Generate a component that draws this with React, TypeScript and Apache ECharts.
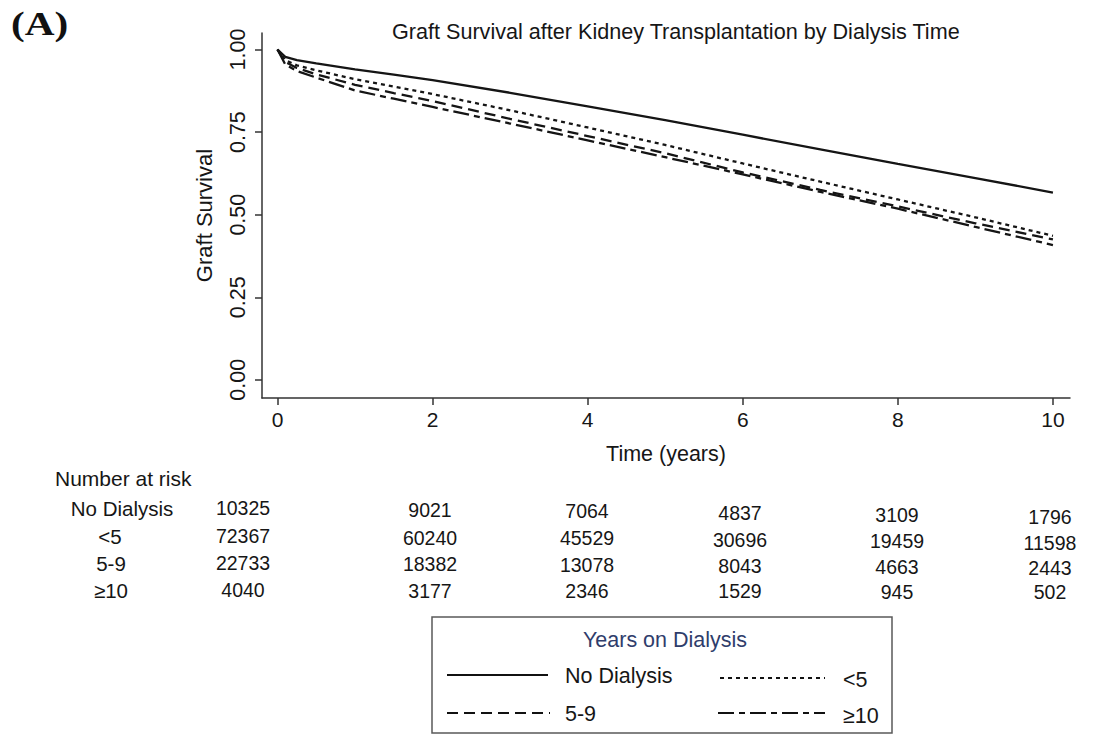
import React, { useEffect, useRef } from "react";
import * as echarts from "echarts";

// ---- survival curves (years, graft survival) ----
const times = [0, 0.1, 0.25, 0.5, 1, 1.5, 2, 3, 4, 5, 6, 7, 8, 9, 10];
const survNoDialysis = [1.0, 0.978, 0.968, 0.958, 0.94, 0.924, 0.907, 0.869, 0.828, 0.786, 0.742, 0.698, 0.654, 0.611, 0.567];
const survLt5 = [1.0, 0.968, 0.952, 0.937, 0.91, 0.888, 0.865, 0.816, 0.764, 0.711, 0.655, 0.6, 0.546, 0.492, 0.436];
const surv5to9 = [1.0, 0.962, 0.944, 0.925, 0.893, 0.868, 0.844, 0.79, 0.738, 0.686, 0.628, 0.575, 0.525, 0.474, 0.425];
const survGe10 = [1.0, 0.955, 0.935, 0.915, 0.876, 0.851, 0.826, 0.776, 0.725, 0.674, 0.622, 0.569, 0.518, 0.463, 0.408];

const groupNames = ["No Dialysis", "<5", "5-9", "≥10"];

// ---- number at risk ----
const riskTimes = [0, 2, 4, 6, 8, 10];
const riskNoDialysis = [10325, 9021, 7064, 4837, 3109, 1796];
const riskLt5 = [72367, 60240, 45529, 30696, 19459, 11598];
const risk5to9 = [22733, 18382, 13078, 8043, 4663, 2443];
const riskGe10 = [4040, 3177, 2346, 1529, 945, 502];

// ---- axis ticks ----
const xTicks = [0, 2, 4, 6, 8, 10];
const yTicks = [0, 0.25, 0.5, 0.75, 1];

const FONT = "'Liberation Sans', Arial, Helvetica, sans-serif";
const INK = "#161616";
const dashes: (number[] | "solid")[] = ["solid", [4, 4], [11, 6], [16, 5, 6, 5]];

export default function App() {
  const ref = useRef<HTMLDivElement>(null);

  useEffect(() => {
    if (!ref.current) return;
    const chart = echarts.init(ref.current, undefined, { renderer: "svg" });

    const survival = [survNoDialysis, survLt5, surv5to9, survGe10];
    const risk = [riskNoDialysis, riskLt5, risk5to9, riskGe10];

    // layout of the risk table
    const colX = [243, 430, 587, 740, 897, 1050];
    const colDy = [0, 2, 3, 5, 7, 9];
    const rowY = [508, 536, 563, 590];
    const rowLabelX = [122, 110, 111, 111];

    const graphics: any[] = [];
    graphics.push({
      type: "text",
      left: 11,
      top: 7,
      style: { text: "(A)", fontFamily: "'Liberation Serif', 'Times New Roman', serif", fontWeight: "bold", fontSize: 33, fill: "#111" },
      scaleX: 1.25,
    });
    graphics.push({
      type: "text",
      x: 55,
      y: 478,
      style: { text: "Number at risk", fontFamily: FONT, fontSize: 21, fill: INK, verticalAlign: "middle" },
    });
    groupNames.forEach((g, r) => {
      graphics.push({
        type: "text",
        x: rowLabelX[r],
        y: rowY[r],
        style: { text: g, fontFamily: FONT, fontSize: 20.5, fill: INK, align: "center", verticalAlign: "middle" },
      });
      riskTimes.forEach((_t, c) => {
        graphics.push({
          type: "text",
          x: colX[c],
          y: rowY[r] + colDy[c] * (1 - r / 4),
          style: { text: String(risk[r][c]), fontFamily: FONT, fontSize: 19.5, fill: INK, align: "center", verticalAlign: "middle" },
        });
      });
    });

    // legend box
    graphics.push({
      type: "rect",
      shape: { x: 432, y: 617, width: 460, height: 116 },
      style: { fill: "none", stroke: "#5a5a5a", lineWidth: 1.5 },
    });
    graphics.push({
      type: "text",
      x: 665,
      y: 640,
      style: { text: "Years on Dialysis", fontFamily: FONT, fontSize: 21.5, fill: "#2f3d6b", align: "center", verticalAlign: "middle" },
    });
    const legPos = [
      { x1: 447, x2: 548, y: 675, tx: 565, ty: 676 },
      { x1: 720, x2: 825, y: 678, tx: 843, ty: 680 },
      { x1: 447, x2: 550, y: 713, tx: 565, ty: 714 },
      { x1: 718, x2: 825, y: 713, tx: 843, ty: 716 },
    ];
    groupNames.forEach((g, i) => {
      const p = legPos[i];
      graphics.push({
        type: "line",
        shape: { x1: p.x1, y1: p.y, x2: p.x2, y2: p.y },
        style: { stroke: "#111", lineWidth: 2.2, lineDash: dashes[i] === "solid" ? null : dashes[i] },
      });
      graphics.push({
        type: "text",
        x: p.tx,
        y: p.ty,
        style: { text: g, fontFamily: FONT, fontSize: 21.5, fill: INK, verticalAlign: "middle" },
      });
    });

    chart.setOption({
      animation: false,
      backgroundColor: "#ffffff",
      title: {
        text: "Graft Survival after Kidney Transplantation by Dialysis Time",
        left: 387,
        top: 15,
        textStyle: { fontFamily: FONT, fontSize: 21.6, fontWeight: "normal", color: INK },
      },
      grid: { left: 262, right: 34, top: 33, bottom: 339, containLabel: false },
      xAxis: {
        type: "value",
        min: -0.2,
        max: 10.22,
        name: "Time (years)",
        nameLocation: "middle",
        nameGap: 45,
        nameTextStyle: { fontFamily: FONT, fontSize: 21.5, color: INK },
        axisLine: { show: true, onZero: false, lineStyle: { color: "#333", width: 1.5 } },
        axisTick: { show: true, customValues: xTicks, length: 7, lineStyle: { color: "#333", width: 1.5 } },
        axisLabel: { customValues: xTicks, fontFamily: FONT, fontSize: 21, color: INK, margin: 11 },
        splitLine: { show: false },
      },
      yAxis: {
        type: "value",
        min: -0.055,
        max: 1.05,
        name: "Graft Survival",
        nameLocation: "middle",
        nameGap: 47,
        nameRotate: 90,
        nameTextStyle: { fontFamily: FONT, fontSize: 22, color: INK },
        axisLine: { show: true, onZero: false, lineStyle: { color: "#333", width: 1.5 } },
        axisTick: { show: true, customValues: yTicks, length: 7, lineStyle: { color: "#333", width: 1.5 } },
        axisLabel: {
          customValues: yTicks,
          rotate: 90,
          formatter: (v: number) => v.toFixed(2),
          fontFamily: FONT,
          fontSize: 21.5,
          color: INK,
          margin: 13,
        },
        splitLine: { show: false },
      },
      series: groupNames.map((g, i) => ({
        name: g,
        type: "line",
        showSymbol: false,
        symbol: "none",
        data: times.map((t, k) => [t, survival[i][k]]),
        lineStyle: { color: "#151515", width: 2.3, type: dashes[i] },
        z: 4 - i,
      })),
      graphic: graphics,
    });

    return () => chart.dispose();
  }, []);

  return (
    <div
      ref={ref}
      style={{ position: "absolute", left: 0, top: 0, width: 1104, height: 737, background: "#fff" }}
    />
  );
}
